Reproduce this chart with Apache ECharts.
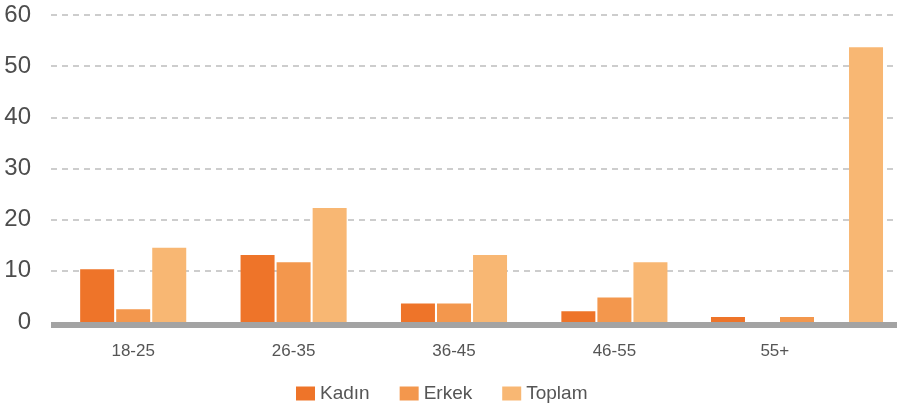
<!DOCTYPE html>
<html>
<head>
<meta charset="utf-8">
<script src="https://cdn.jsdelivr.net/npm/echarts@6/dist/echarts.min.js"></script>
<style>
  html, body { margin: 0; padding: 0; background: #ffffff; }
  #chart { width: 899px; height: 404px; }
</style>
</head>
<body>
<div id="chart"></div>
<script>
const categories = ['18-25', '26-35', '36-45', '46-55', '55+'];
const seriesNames = ['Kadın', 'Erkek', 'Toplam'];
const kadin = [10.3, 13.1, 3.6, 2.1, 1.0];
const erkek = [2.5, 11.7, 3.6, 4.8, 1.0];
const toplam = [14.5, 22.3, 13.1, 11.7, 53.7];
const yMin = 0, yMax = 60, yStep = 10;

const colors = ['#EE7429', '#F3974D', '#F8B773'];
const values = [kadin, erkek, toplam];
const lastIdx = categories.length - 1;
const FONT = "'Liberation Sans', Arial, sans-serif";

const series = [];
values.forEach((arr, i) => {
  series.push({
    name: seriesNames[i], type: 'bar', xAxisIndex: 1, yAxisIndex: 1,
    barWidth: 34, barGap: '6%',
    itemStyle: { color: colors[i] },
    data: arr.map((v, k) => (k < lastIdx ? v : '-'))
  });
});
values.forEach((arr, i) => {
  series.push({
    name: seriesNames[i], type: 'bar', xAxisIndex: 2, yAxisIndex: 2,
    barWidth: 34, barGap: '103%',
    itemStyle: { color: colors[i] },
    data: [arr[lastIdx]]
  });
});

const chart = echarts.init(document.getElementById('chart'), null, { renderer: 'canvas' });
chart.setOption({
  animation: false,
  backgroundColor: '#ffffff',
  textStyle: { fontFamily: FONT },
  grid: [
    { left: 51, right: 2, top: 15, height: 307 },
    { left: 53, width: 802, top: 15, height: 307 },
    { left: 697, width: 200, top: 15, height: 307 },
    { left: 51, right: 2, top: 15, height: 310 }
  ],
  legend: {
    data: seriesNames,
    left: 296, top: 384, padding: 0,
    icon: 'rect', itemWidth: 19, itemHeight: 14, itemGap: 30,
    textStyle: { fontSize: 19, color: '#555555', fontFamily: FONT }
  },
  xAxis: [
    { gridIndex: 0, type: 'category', data: [''], show: false },
    { gridIndex: 1, type: 'category', data: categories,
      axisLine: { show: false }, axisTick: { show: false },
      axisLabel: { fontSize: 17, color: '#555555', margin: 21, fontFamily: FONT } },
    { gridIndex: 2, type: 'category', data: [categories[lastIdx]], show: false },
    { gridIndex: 3, type: 'category', data: [''],
      axisLine: { show: true, lineStyle: { color: '#a3a3a3', width: 6, cap: 'butt' } },
      axisTick: { show: false }, axisLabel: { show: false }, splitLine: { show: false } }
  ],
  yAxis: [
    { gridIndex: 0, type: 'value', min: yMin, max: yMax, interval: yStep,
      axisLine: { show: false }, axisTick: { show: false },
      axisLabel: { fontSize: 24, color: '#4d4d4d', margin: 20, fontFamily: FONT },
      splitLine: { show: true, showMinLine: false, lineStyle: { color: '#bdbdbd', width: 1.5, type: [6, 5] } } },
    { gridIndex: 1, type: 'value', min: yMin, max: yMax, interval: yStep, show: false, splitLine: { show: false } },
    { gridIndex: 2, type: 'value', min: yMin, max: yMax, interval: yStep, show: false, splitLine: { show: false } },
    { gridIndex: 3, type: 'value', min: yMin, max: yMax, interval: yStep, show: false, splitLine: { show: false } }
  ],
  series: series
});
</script>
</body>
</html>
